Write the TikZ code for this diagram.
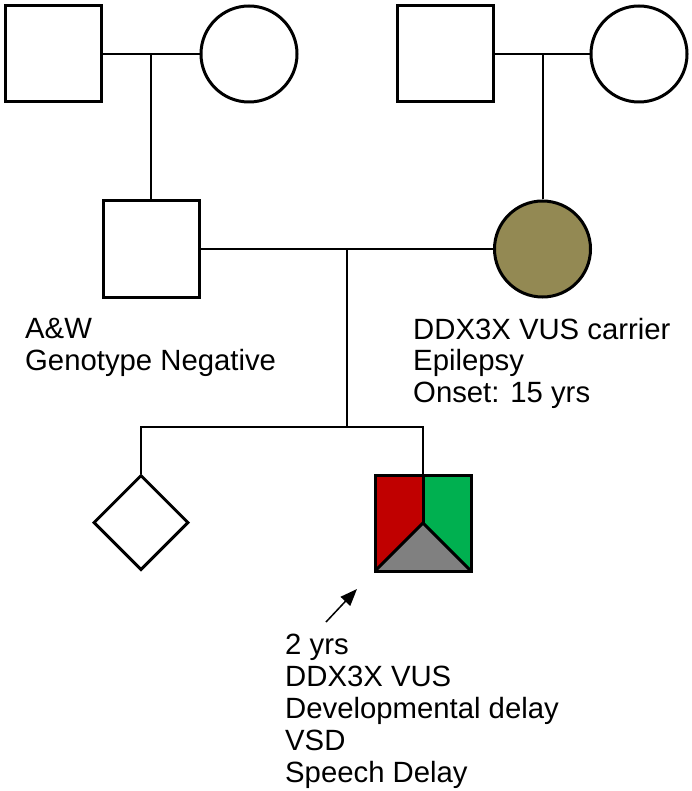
\documentclass[tikz,border=0pt]{standalone}
\usepackage{fontspec}
\setmainfont{Liberation Sans}
\usetikzlibrary{shapes.geometric,arrows.meta}
\definecolor{affred}{RGB}{192,0,0}
\definecolor{affgreen}{RGB}{0,176,80}
\definecolor{affgray}{RGB}{128,128,128}
\definecolor{carrier}{RGB}{147,137,83}
\begin{document}
\begin{tikzpicture}[x=1pt,y=-1pt,
  male/.style={draw,rectangle,line width=3pt,minimum size=96pt,inner sep=0pt,fill=white},
  female/.style={draw,circle,line width=3pt,minimum size=96pt,inner sep=0pt,fill=white},
  unknownsex/.style={draw,diamond,aspect=1,line width=3pt,minimum width=95pt,minimum height=95pt,inner sep=0pt,fill=white},
  conn/.style={line width=2pt},
  lbl/.style={align=left,inner sep=0pt,anchor=north west},
  proband/.style={male,path picture={
      \fill[affred] (path picture bounding box.north west) -- (path picture bounding box.north)
        -- (path picture bounding box.center) -- (path picture bounding box.south west) -- cycle;
      \fill[affgreen] (path picture bounding box.north) -- (path picture bounding box.north east)
        -- (path picture bounding box.south east) -- (path picture bounding box.center) -- cycle;
      \fill[affgray] (path picture bounding box.center) -- (path picture bounding box.south east)
        -- (path picture bounding box.south west) -- cycle;
      \draw[line width=3pt] (path picture bounding box.north) -- (path picture bounding box.center);
      \draw[line width=3pt] (path picture bounding box.south west) -- (path picture bounding box.center)
        -- (path picture bounding box.south east);
  }}
]
\useasboundingbox (0,0) rectangle (692,791);
\fill[white] (0,0) rectangle (692,791);

% generation I
\node[male] (gf1) at (53,54) {};
\node[female] (gm1) at (249,54) {};
\node[male] (gf2) at (445,54) {};
\node[female] (gm2) at (639,54) {};

% generation II
\node[male] (father) at (151,249) {};
\node[female,fill=carrier] (mother) at (542.5,249) {};

% generation III
\node[unknownsex] (sib) at (141,522.5) {};
\node[proband] (pro) at (423,523) {};

% connectors
\draw[conn] (gf1.east) -- (gm1.west);
\coordinate (c1) at (father.north |- gf1.east);
\draw[conn] (c1) -- (father.north);
\draw[conn] (gf2.east) -- (gm2.west);
\coordinate (c2) at (mother.north |- gf2.east);
\draw[conn] (c2) -- (mother.north);
\draw[conn] (father.east) -- (mother.west);
\coordinate (c3) at (346.5,249);
\coordinate (s) at (346.5,427);
\draw[conn] (c3) -- (s);
\draw[conn] (sib.north) -- (sib.north |- s) -- (pro.north |- s) -- (pro.north);

% proband arrow
\coordinate (arrtail) at (326,622);
\coordinate (arrtip) at (357,589);
\draw[line width=1.5pt,-{Triangle[length=17pt,width=13pt]}] (arrtail) -- (arrtip);

% labels
\node[lbl,font=\fontsize{29.3}{32}\selectfont] (tfather) at (25,318) {A\&W\\Genotype Negative};
\node[lbl,font=\fontsize{29.3}{31.5}\selectfont] (tmother) at (413,318) {DDX3X VUS carrier\\Epilepsy\\Onset: 15 yrs};
\node[lbl,font=\fontsize{29.3}{32}\selectfont] (tpro) at (285,634) {2 yrs\\DDX3X VUS\\Developmental delay\\VSD\\Speech Delay};
\end{tikzpicture}
\end{document}
